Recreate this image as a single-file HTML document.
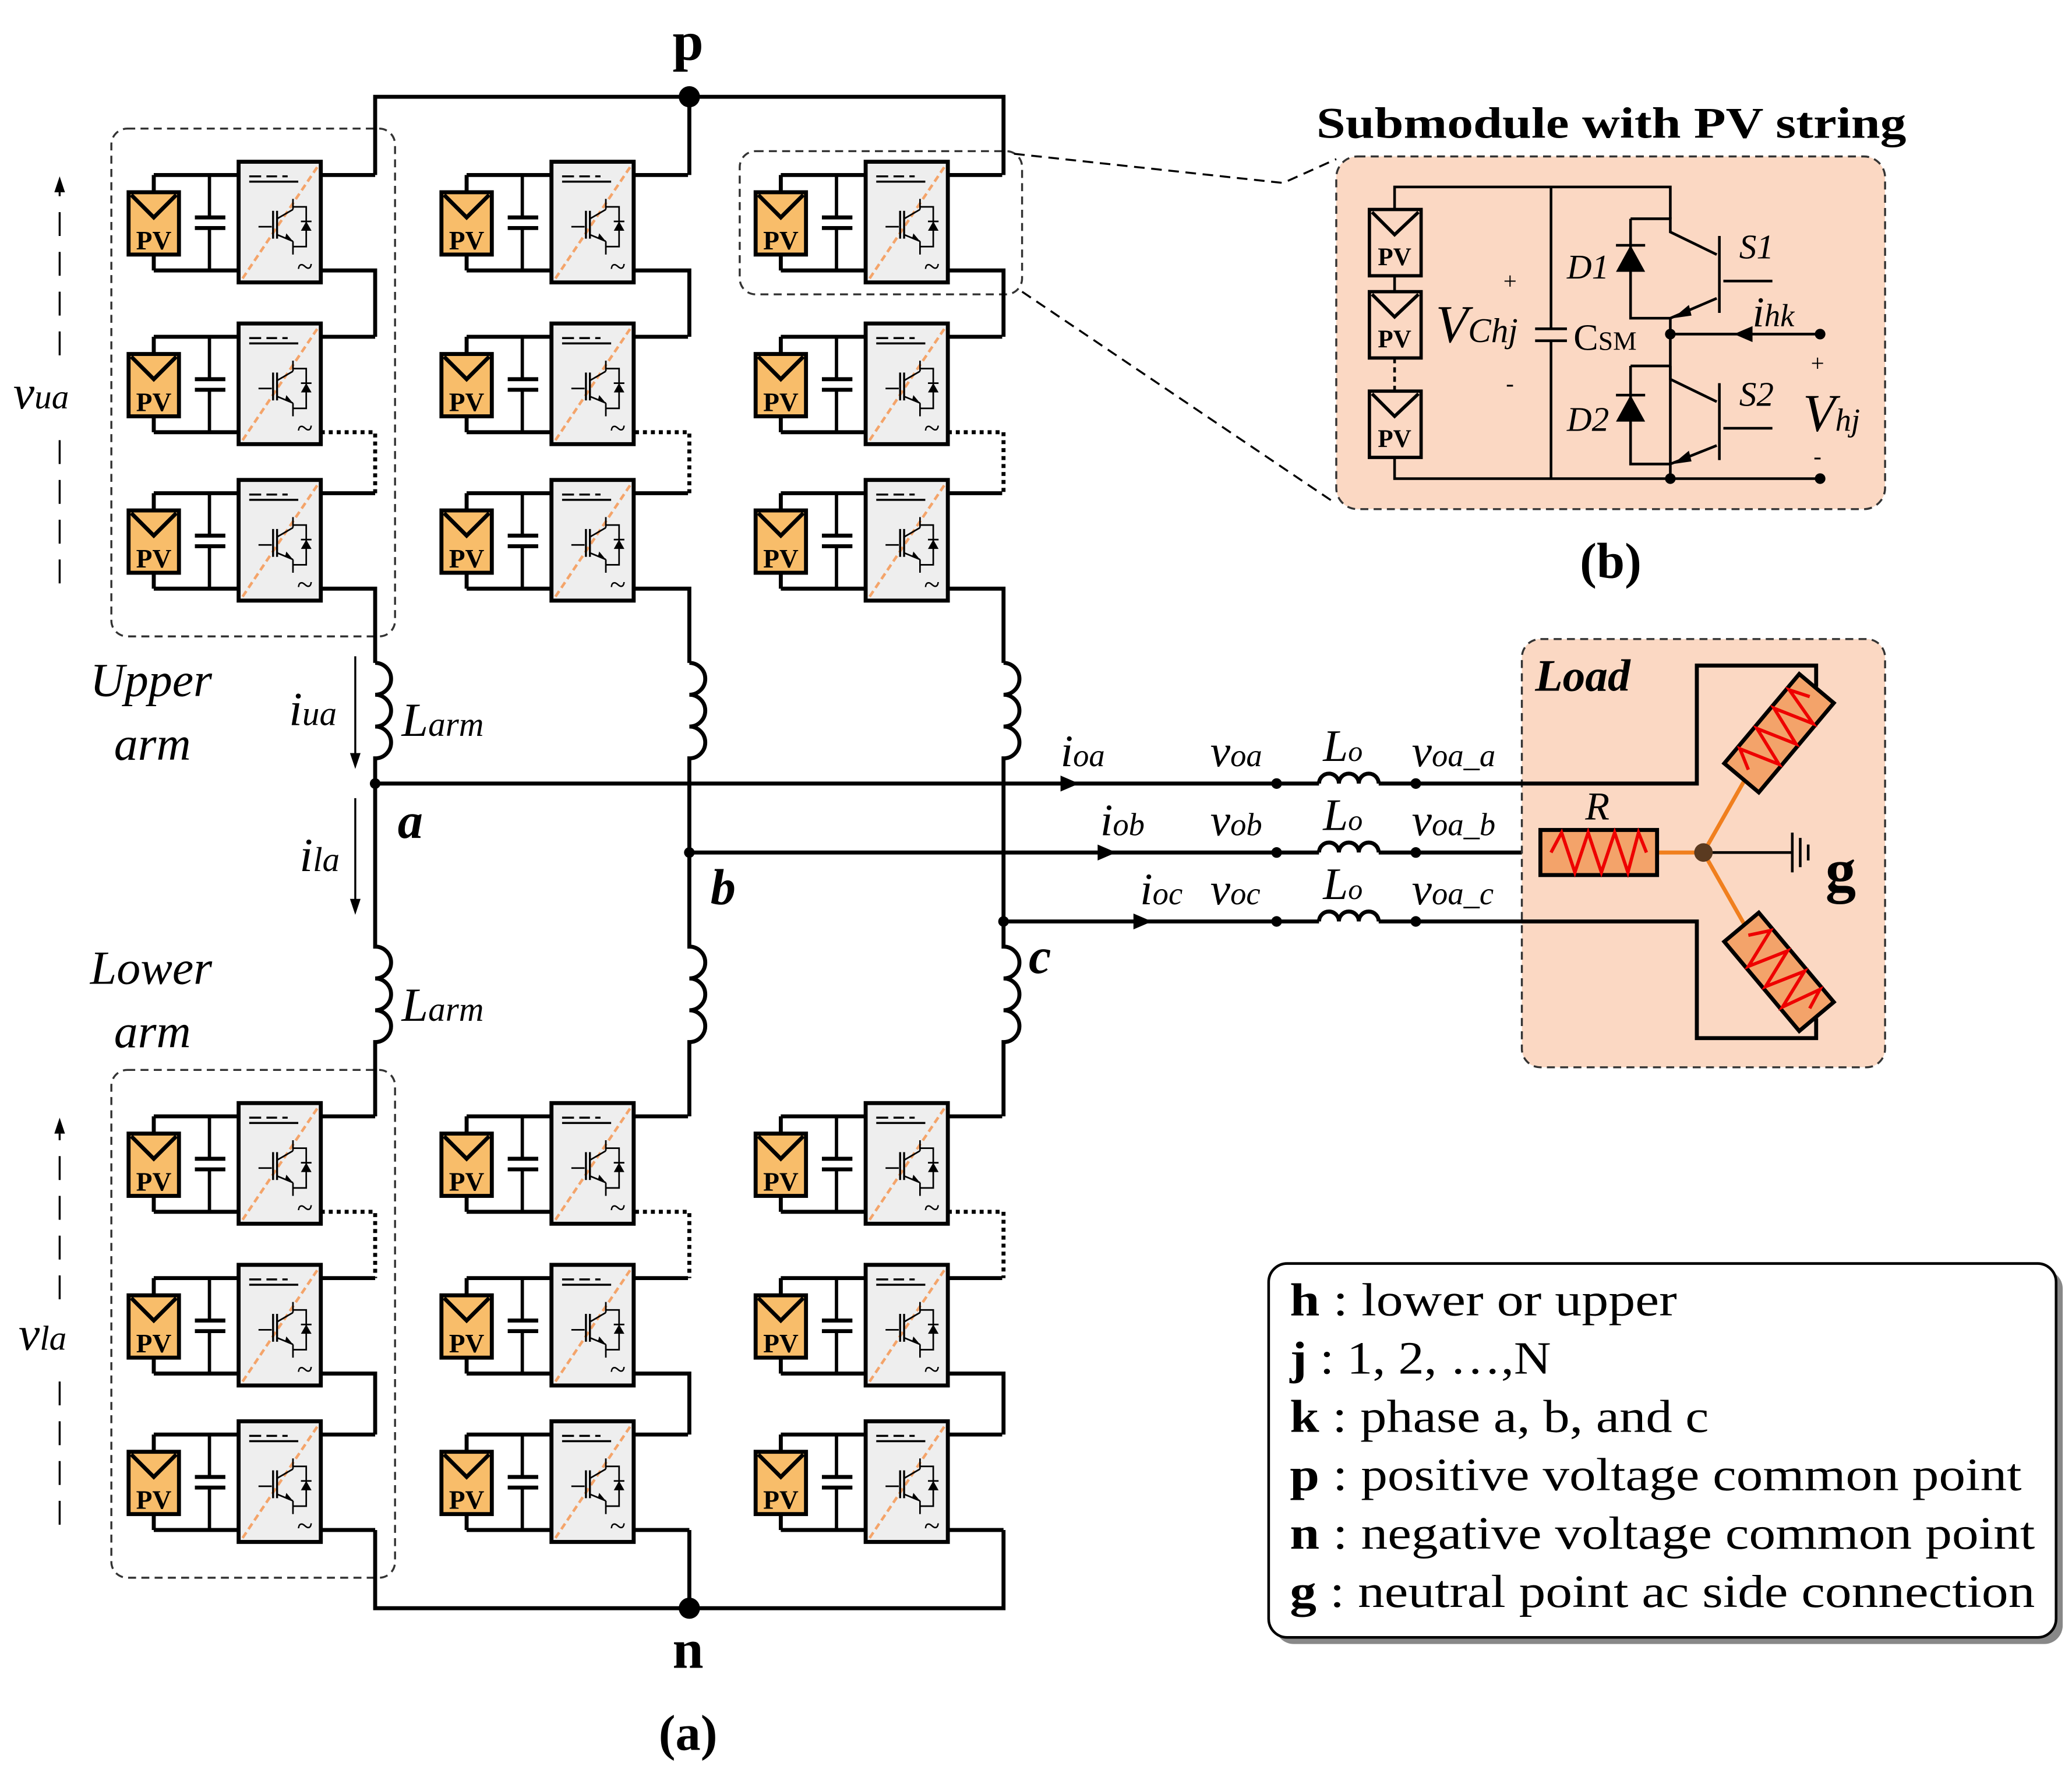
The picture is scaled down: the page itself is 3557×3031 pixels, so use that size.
<!DOCTYPE html>
<html><head><meta charset="utf-8"><style>
html,body{margin:0;padding:0;background:#fff}
svg{display:block}
text{font-family:"Liberation Serif",serif}
.it{font-style:italic}
.b{font-weight:bold}
</style></head><body>
<svg width="3557" height="3031" viewBox="0 0 1563 1332" preserveAspectRatio="none" xmlns="http://www.w3.org/2000/svg">
<defs>
<g id="sm">
  <line x1="19" y1="10" x2="19" y2="23" stroke="#000" stroke-width="3"/>
  <line x1="19" y1="70" x2="19" y2="82" stroke="#000" stroke-width="3"/>
  <polyline points="19,10 83,10" fill="none" stroke="#000" stroke-width="3"/>
  <polyline points="19,82 83,82" fill="none" stroke="#000" stroke-width="3"/>
  <rect x="0" y="23" width="38" height="47" fill="#f8bd6a" stroke="#000" stroke-width="3"/>
  <polyline points="2,25 19,42 36,25" fill="none" stroke="#000" stroke-width="3"/>
  <line x1="61" y1="10" x2="61" y2="42" stroke="#000" stroke-width="2.5"/>
  <line x1="61" y1="50" x2="61" y2="82" stroke="#000" stroke-width="2.5"/>
  <line x1="50" y1="42" x2="73" y2="42" stroke="#000" stroke-width="3"/>
  <line x1="50" y1="50" x2="73" y2="50" stroke="#000" stroke-width="3"/>
  <rect x="83" y="0" width="62" height="91" fill="#eeeeee" stroke="#000" stroke-width="3"/>
  <line x1="86" y1="88" x2="143" y2="3" stroke="#f4a46a" stroke-width="2" stroke-dasharray="5,3"/>
  <line x1="91" y1="15" x2="128" y2="15" stroke="#000" stroke-width="1.5"/>
  <line x1="91" y1="11" x2="100" y2="11" stroke="#000" stroke-width="1.5"/>
  <line x1="104" y1="11" x2="112" y2="11" stroke="#000" stroke-width="1.5"/>
  <line x1="116" y1="11" x2="120" y2="11" stroke="#000" stroke-width="1.5"/>
  <line x1="98" y1="49" x2="108" y2="49" stroke="#000" stroke-width="1.2"/>
  <line x1="109" y1="37" x2="109" y2="58" stroke="#000" stroke-width="1.5"/>
  <line x1="112" y1="37" x2="112" y2="58" stroke="#000" stroke-width="1.5"/>
  <line x1="112" y1="43" x2="124" y2="36" stroke="#000" stroke-width="1.2"/>
  <line x1="112" y1="55" x2="124" y2="60" stroke="#000" stroke-width="1.2"/>
  <polygon points="118,58 124,60 119,54" fill="#000"/>
  <polyline points="124,28 124,36 124,34 134,34 134,64 124,64 124,60 124,70" fill="none" stroke="#000" stroke-width="1.2"/>
  <polygon points="130,52 138,52 134,45" fill="#000"/>
  <line x1="130" y1="45" x2="138" y2="45" stroke="#000" stroke-width="1.2"/>
  <text x="133" y="86" font-size="22" text-anchor="middle">~</text>
  <line x1="145" y1="10" x2="186" y2="10" stroke="#000" stroke-width="3"/>
</g>
</defs>

<rect x="84" y="97" width="214" height="383" rx="12" fill="none" stroke="#333" stroke-width="1.5" stroke-dasharray="6,4"/>
<rect x="84" y="807" width="214" height="383" rx="12" fill="none" stroke="#333" stroke-width="1.5" stroke-dasharray="6,4"/>
<rect x="558" y="114" width="213" height="108" rx="12" fill="none" stroke="#333" stroke-width="1.5" stroke-dasharray="6,4"/>

<g stroke="#000" stroke-width="3" fill="none">
<polyline points="283,132 283,73 757,73 757,132"/>
<line x1="520" y1="73" x2="520" y2="132"/>
<polyline points="283,1154 283,1213 757,1213 757,1154"/>
<line x1="520" y1="1213" x2="520" y2="1154"/>
</g>

<g>
<use href="#sm" x="97" y="122"/><use href="#sm" x="97" y="244"/><use href="#sm" x="97" y="362"/>
<use href="#sm" x="97" y="832"/><use href="#sm" x="97" y="954"/><use href="#sm" x="97" y="1072"/>
<use href="#sm" x="333" y="122"/><use href="#sm" x="333" y="244"/><use href="#sm" x="333" y="362"/>
<use href="#sm" x="333" y="832"/><use href="#sm" x="333" y="954"/><use href="#sm" x="333" y="1072"/>
<use href="#sm" x="570" y="122"/><use href="#sm" x="570" y="244"/><use href="#sm" x="570" y="362"/>
<use href="#sm" x="570" y="832"/><use href="#sm" x="570" y="954"/><use href="#sm" x="570" y="1072"/>
</g>
<g font-size="20" font-weight="bold" text-anchor="middle">
<text x="116" y="188">PV</text><text x="116" y="310">PV</text><text x="116" y="428">PV</text>
<text x="116" y="898">PV</text><text x="116" y="1020">PV</text><text x="116" y="1138">PV</text>
<text x="352" y="188">PV</text><text x="352" y="310">PV</text><text x="352" y="428">PV</text>
<text x="352" y="898">PV</text><text x="352" y="1020">PV</text><text x="352" y="1138">PV</text>
<text x="589" y="188">PV</text><text x="589" y="310">PV</text><text x="589" y="428">PV</text>
<text x="589" y="898">PV</text><text x="589" y="1020">PV</text><text x="589" y="1138">PV</text>
</g>

<g stroke="#000" stroke-width="3" fill="none">
<polyline points="242,204 283,204 283,254"/><polyline points="479,204 520,204 520,254"/><polyline points="715,204 757,204 757,254"/>
<polyline points="242,444 283,444 283,500"/><polyline points="479,444 520,444 520,500"/><polyline points="715,444 757,444 757,500"/>
<path d="M283,500 a12,12 0 0 1 0,24 a12,12 0 0 1 0,24 a12,12 0 0 1 0,24 L283,714 a12,12 0 0 1 0,24 a12,12 0 0 1 0,24 a12,12 0 0 1 0,24 L283,842"/>
<path d="M520,500 a12,12 0 0 1 0,24 a12,12 0 0 1 0,24 a12,12 0 0 1 0,24 L520,714 a12,12 0 0 1 0,24 a12,12 0 0 1 0,24 a12,12 0 0 1 0,24 L520,842"/>
<path d="M757,500 a12,12 0 0 1 0,24 a12,12 0 0 1 0,24 a12,12 0 0 1 0,24 L757,714 a12,12 0 0 1 0,24 a12,12 0 0 1 0,24 a12,12 0 0 1 0,24 L757,842"/>
<polyline points="242,1036 283,1036 283,1082"/><polyline points="479,1036 520,1036 520,1082"/><polyline points="715,1036 757,1036 757,1082"/>
<polyline points="242,1154 283,1154"/><polyline points="479,1154 520,1154"/><polyline points="715,1154 757,1154"/>
</g>
<g stroke="#000" stroke-width="3" fill="none" stroke-dasharray="3,3">
<polyline points="242,326 283,326 283,372"/><polyline points="479,326 520,326 520,372"/><polyline points="715,326 757,326 757,372"/>
<polyline points="242,914 283,914 283,964"/><polyline points="479,914 520,914 520,964"/><polyline points="715,914 757,914 757,964"/>
</g>

<circle cx="520" cy="73" r="8" fill="#000"/>
<circle cx="520" cy="1213" r="8" fill="#000"/>
<text x="519" y="45" font-size="42" class="b" text-anchor="middle">p</text>
<text x="519" y="1258" font-size="42" class="b" text-anchor="middle">n</text>
<text x="519" y="1320" font-size="38" class="b" text-anchor="middle">(a)</text>

<g stroke="#000" stroke-width="1.5">
<line x1="45" y1="440" x2="45" y2="322" stroke-dasharray="18,12"/>
<line x1="45" y1="268" x2="45" y2="145" stroke-dasharray="18,12"/>
<line x1="45" y1="1150" x2="45" y2="1032" stroke-dasharray="18,12"/>
<line x1="45" y1="980" x2="45" y2="855" stroke-dasharray="18,12"/>
</g>
<polygon points="41,145 49,145 45,133" fill="#000"/>
<polygon points="41,855 49,855 45,843" fill="#000"/>
<text x="10" y="308" font-size="36" class="it">v<tspan font-size="26">ua</tspan></text>
<text x="14" y="1018" font-size="36" class="it">v<tspan font-size="26">la</tspan></text>

<text x="68" y="525" font-size="36" class="it">Upper</text>
<text x="86" y="573" font-size="36" class="it">arm</text>
<text x="68" y="742" font-size="36" class="it">Lower</text>
<text x="86" y="790" font-size="36" class="it">arm</text>
<text x="218" y="547" font-size="36" class="it">i<tspan font-size="26">ua</tspan></text>
<text x="226" y="657" font-size="36" class="it">i<tspan font-size="26">la</tspan></text>
<line x1="268" y1="495" x2="268" y2="570" stroke="#000" stroke-width="1.5"/>
<polygon points="264,568 272,568 268,580" fill="#000"/>
<line x1="268" y1="602" x2="268" y2="680" stroke="#000" stroke-width="1.5"/>
<polygon points="264,678 272,678 268,690" fill="#000"/>
<text x="303" y="555" font-size="36" class="it">L<tspan font-size="26">arm</tspan></text>
<text x="303" y="770" font-size="36" class="it">L<tspan font-size="26">arm</tspan></text>
<text x="300" y="632" font-size="38" class="it b">a</text>
<text x="536" y="682" font-size="38" class="it b">b</text>
<text x="776" y="734" font-size="38" class="it b">c</text>

<g stroke="#000" stroke-width="3" fill="none">
<polyline points="283,591 995,591"/>
<polyline points="520,643 995,643"/><polyline points="1040,643 1162,643"/>
<polyline points="757,695 995,695"/>
<path d="M995,591 a7.5,7.5 0 0 1 15,0 a7.5,7.5 0 0 1 15,0 a7.5,7.5 0 0 1 15,0"/>
<path d="M995,643 a7.5,7.5 0 0 1 15,0 a7.5,7.5 0 0 1 15,0 a7.5,7.5 0 0 1 15,0"/>
<path d="M995,695 a7.5,7.5 0 0 1 15,0 a7.5,7.5 0 0 1 15,0 a7.5,7.5 0 0 1 15,0"/>
</g>
<circle cx="283" cy="591" r="4" fill="#000"/>
<circle cx="520" cy="643" r="4" fill="#000"/>
<circle cx="757" cy="695" r="4" fill="#000"/>
<g fill="#000">
<circle cx="963" cy="591" r="4"/><circle cx="1068" cy="591" r="4"/>
<circle cx="963" cy="643" r="4"/><circle cx="1068" cy="643" r="4"/>
<circle cx="963" cy="695" r="4"/><circle cx="1068" cy="695" r="4"/>
<polygon points="800,585 800,597 814,591"/>
<polygon points="828,637 828,649 842,643"/>
<polygon points="855,689 855,701 869,695"/>
</g>
<g font-size="34" class="it">
<text x="800" y="578">i<tspan font-size="24">oa</tspan></text>
<text x="913" y="578">v<tspan font-size="24">oa</tspan></text>
<text x="998" y="574">L<tspan font-size="22">o</tspan></text>
<text x="1065" y="578">v<tspan font-size="24">oa_a</tspan></text>
<text x="830" y="630">i<tspan font-size="24">ob</tspan></text>
<text x="913" y="630">v<tspan font-size="24">ob</tspan></text>
<text x="998" y="626">L<tspan font-size="22">o</tspan></text>
<text x="1065" y="630">v<tspan font-size="24">oa_b</tspan></text>
<text x="860" y="682">i<tspan font-size="24">oc</tspan></text>
<text x="913" y="682">v<tspan font-size="24">oc</tspan></text>
<text x="998" y="678">L<tspan font-size="22">o</tspan></text>
<text x="1065" y="682">v<tspan font-size="24">oa_c</tspan></text>
</g>

<rect x="1148" y="482" width="274" height="323" rx="14" fill="#fbd8c3" stroke="#333" stroke-width="1.5" stroke-dasharray="6,4"/>
<g stroke="#000" stroke-width="3" fill="none">
<polyline points="1040,591 1280,591 1280,502 1370,502 1370,518"/>
<polyline points="1040,695 1280,695 1280,783 1370,783 1370,768"/>
</g>
<text x="1158" y="521" font-size="34" class="it b">Load</text>
<g stroke="#f07f1e" stroke-width="3">
<line x1="1250" y1="643" x2="1285" y2="643"/>
<line x1="1318" y1="585" x2="1285" y2="643"/>
<line x1="1318" y1="701" x2="1285" y2="643"/>
</g>
<line x1="1285" y1="643" x2="1352" y2="643" stroke="#000" stroke-width="2"/>
<g stroke="#000" stroke-width="2">
<line x1="1352" y1="628" x2="1352" y2="658"/><line x1="1358" y1="632" x2="1358" y2="654"/><line x1="1364" y1="637" x2="1364" y2="649"/>
</g>
<circle cx="1285" cy="643" r="7" fill="#5a3a20"/>
<text x="1377" y="672" font-size="46" class="b">g</text>
<g>
<rect x="1162" y="626" width="88" height="34" fill="#f3a36a" stroke="#000" stroke-width="3"/>
<polyline points="1170,643 1178,628 1188,658 1198,628 1208,658 1218,628 1228,658 1236,628 1242,643" fill="none" stroke="#e00" stroke-width="2.5"/>
<text x="1205" y="618" font-size="30" class="it" text-anchor="middle">R</text>
</g>
<g transform="translate(1342,553) rotate(-50)">
<rect x="-44" y="-17" width="88" height="34" fill="#f3a36a" stroke="#000" stroke-width="3"/>
<polyline points="-36,0 -28,-15 -18,15 -8,-15 2,15 12,-15 22,15 30,-15 36,0" fill="none" stroke="#e00" stroke-width="2.5"/>
</g>
<g transform="translate(1342,733) rotate(50)">
<rect x="-44" y="-17" width="88" height="34" fill="#f3a36a" stroke="#000" stroke-width="3"/>
<polyline points="-36,0 -28,-15 -18,15 -8,-15 2,15 12,-15 22,15 30,-15 36,0" fill="none" stroke="#e00" stroke-width="2.5"/>
</g>

<rect x="962" y="958" width="594" height="282" rx="14" fill="#888"/>
<rect x="957" y="953" width="594" height="282" rx="14" fill="#fff" stroke="#000" stroke-width="2"/>
<g font-size="35">
<text x="973" y="992" textLength="292" lengthAdjust="spacingAndGlyphs"><tspan class="b">h</tspan> : lower or upper</text>
<text x="973" y="1036" textLength="197" lengthAdjust="spacingAndGlyphs"><tspan class="b">j</tspan>  : 1, 2, …,N</text>
<text x="973" y="1080" textLength="316" lengthAdjust="spacingAndGlyphs"><tspan class="b">k</tspan> : phase a, b, and c</text>
<text x="973" y="1124" textLength="552" lengthAdjust="spacingAndGlyphs"><tspan class="b">p</tspan> : positive voltage common point</text>
<text x="973" y="1168" textLength="562" lengthAdjust="spacingAndGlyphs"><tspan class="b">n</tspan> : negative voltage common point</text>
<text x="973" y="1212" textLength="562" lengthAdjust="spacingAndGlyphs"><tspan class="b">g</tspan> : neutral point ac side connection</text>
</g>

<text x="993" y="104" font-size="33" class="b" textLength="445" lengthAdjust="spacingAndGlyphs">Submodule with PV string</text>
<polyline points="765,116 968,138 1008,120" fill="none" stroke="#000" stroke-width="1.5" stroke-dasharray="8,5"/>
<line x1="771" y1="220" x2="1008" y2="380" stroke="#000" stroke-width="1.5" stroke-dasharray="8,5"/>
<rect x="1008" y="118" width="414" height="266" rx="16" fill="#fbd8c3" stroke="#333" stroke-width="1.5" stroke-dasharray="6,4"/>
<g stroke="#000" stroke-width="2" fill="none">
<polyline points="1052,158 1052,141 1260,141 1260,165"/>
<polyline points="1052,345 1052,361 1373,361"/>
<line x1="1052" y1="208" x2="1052" y2="220"/>
<line x1="1052" y1="270" x2="1052" y2="295" stroke-dasharray="4,3"/>
<line x1="1170" y1="141" x2="1170" y2="248"/><line x1="1170" y1="257" x2="1170" y2="361"/>
<line x1="1158" y1="248" x2="1182" y2="248"/><line x1="1158" y1="257" x2="1182" y2="257"/>
<polyline points="1230,165 1260,165 1260,175 1295,192"/>
<polyline points="1230,165 1230,240 1260,240"/>
<polyline points="1295,225 1260,240 1260,361"/>
<line x1="1297" y1="178" x2="1297" y2="236"/>
<line x1="1300" y1="212" x2="1337" y2="212"/>
<polyline points="1230,276 1260,276"/>
<polyline points="1260,276 1260,286 1295,303"/>
<polyline points="1230,276 1230,350 1260,350"/>
<polyline points="1295,336 1260,350"/>
<line x1="1297" y1="289" x2="1297" y2="347"/>
<line x1="1300" y1="323" x2="1337" y2="323"/>
<line x1="1260" y1="252" x2="1373" y2="252"/>
</g>
<g fill="#000">
<polygon points="1219,205 1241,205 1230,185"/><line x1="1219" y1="185" x2="1241" y2="185" stroke="#000" stroke-width="2"/>
<polygon points="1219,318 1241,318 1230,298"/><line x1="1219" y1="298" x2="1241" y2="298" stroke="#000" stroke-width="2"/>
<polygon points="1262,240 1274,230 1276,238"/>
<polygon points="1262,350 1274,340 1276,348"/>
<polygon points="1308,252 1322,246 1322,258"/>
<circle cx="1260" cy="252" r="4"/><circle cx="1373" cy="252" r="4"/>
<circle cx="1260" cy="361" r="4"/><circle cx="1373" cy="361" r="4"/>
</g>
<g stroke="#000" stroke-width="2.5">
<rect x="1033" y="158" width="39" height="50" fill="#fbd8c3"/>
<rect x="1033" y="220" width="39" height="50" fill="#fbd8c3"/>
<rect x="1033" y="295" width="39" height="50" fill="#fbd8c3"/>
<polyline points="1035,160 1052,177 1070,160" fill="none"/>
<polyline points="1035,222 1052,239 1070,222" fill="none"/>
<polyline points="1035,297 1052,314 1070,297" fill="none"/>
</g>
<g font-size="19" font-weight="bold" text-anchor="middle">
<text x="1052" y="200">PV</text><text x="1052" y="262">PV</text><text x="1052" y="337">PV</text>
</g>
<text x="1134" y="218" font-size="18">+</text>
<text x="1136" y="295" font-size="18">-</text>
<text x="1083" y="258" font-size="40" class="it">V<tspan font-size="26">Chj</tspan></text>
<text x="1187" y="264" font-size="28">C<tspan font-size="20">SM</tspan></text>
<text x="1182" y="210" font-size="26" class="it">D1</text>
<text x="1182" y="325" font-size="26" class="it">D2</text>
<text x="1312" y="195" font-size="26" class="it">S1</text>
<text x="1312" y="306" font-size="26" class="it">S2</text>
<text x="1322" y="246" font-size="32" class="it">i<tspan font-size="24">hk</tspan></text>
<text x="1366" y="280" font-size="18">+</text>
<text x="1368" y="350" font-size="18">-</text>
<text x="1360" y="325" font-size="40" class="it">V<tspan font-size="24">hj</tspan></text>
<text x="1215" y="436" font-size="38" class="b" text-anchor="middle">(b)</text>
</svg>
</body></html>
